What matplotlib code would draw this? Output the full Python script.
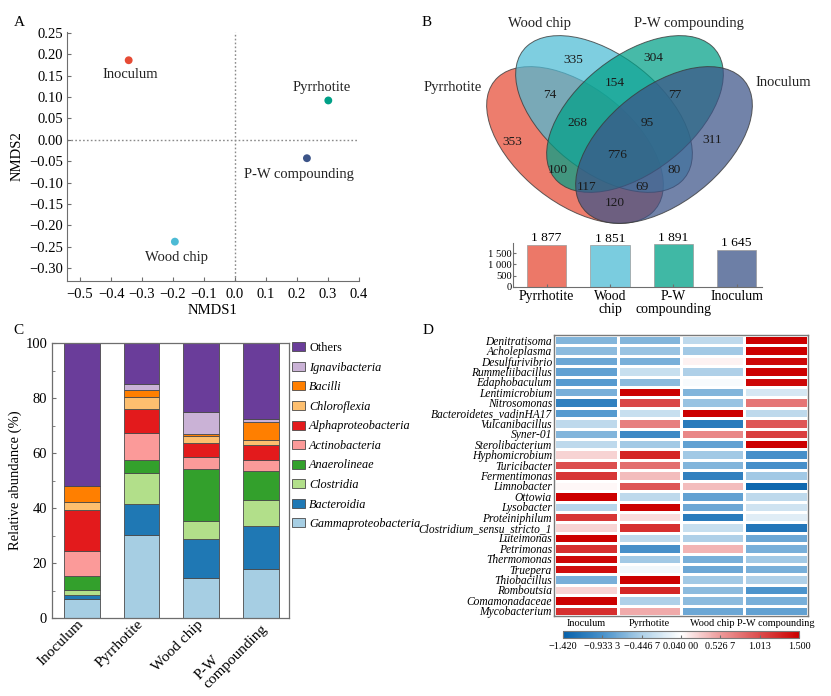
import matplotlib
matplotlib.use('Agg')
import matplotlib.pyplot as plt
import matplotlib.transforms as mtransforms
import numpy as np
from matplotlib.patches import Ellipse, Patch
from matplotlib.colors import LinearSegmentedColormap, to_rgba

plt.rcParams['font.family'] = ['Liberation Serif', 'DejaVu Serif']
plt.rcParams['axes.unicode_minus'] = True

# ---------------- data ----------------
# Panel A: NMDS
nmds_samples = ['Inoculum', 'Pyrrhotite', 'P-W compounding', 'Wood chip']
nmds1 = [-0.343, 0.301, 0.232, -0.194]
nmds2 = [0.186, 0.092, -0.043, -0.238]
nmds_colors = ['#E64B35', '#00A087', '#3C5488', '#4DBBD5']

# Panel B: Venn
venn_sets = ['Pyrrhotite', 'Wood chip', 'P-W compounding', 'Inoculum']
venn_colors = ['#E64B35', '#4DBBD5', '#00A087', '#3C5488']
venn_counts = [353, 335, 304, 311, 74, 154, 77, 268, 95, 776, 100, 80, 117, 69, 120]
set_totals = [1877, 1851, 1891, 1645]
set_tick_labels = ['Pyrrhotite', 'Wood\nchip', 'P-W\ncompounding', 'Inoculum']

# Panel C: stacked composition (%)
groups_c = ['Inoculum', 'Pyrrhotite', 'Wood chip', 'P-W\ncompounding']
taxa = ['Gammaproteobacteria', 'Bacteroidia', 'Clostridia', 'Anaerolineae',
        'Actinobacteria', 'Alphaproteobacteria', 'Chloroflexia', 'Bacilli',
        'Ignavibacteria', 'Others']
gamma = [7.0, 30.3, 14.5, 17.9]
bacteroidia = [1.2, 11.2, 14.2, 15.4]
clostridia = [1.9, 11.2, 6.7, 9.5]
anaerolineae = [5.2, 4.8, 18.7, 10.8]
actinobacteria = [8.9, 9.7, 4.6, 3.9]
alphaproteo = [15.1, 8.8, 4.9, 5.3]
chloroflexia = [2.9, 4.5, 2.5, 1.9]
bacilli = [5.7, 2.5, 0.9, 6.6]
ignavibacteria = [0.2, 2.2, 7.9, 0.9]
others = [51.9, 14.8, 25.1, 27.8]
taxa_colors = ['#a6cee3', '#1f78b4', '#b2df8a', '#33a02c', '#fb9a99',
               '#e31a1c', '#fdbf6f', '#ff7f00', '#cab2d6', '#6a3d9a']

# Panel D: heatmap (z-scores)
genera = ['Denitratisoma', 'Acholeplasma', 'Desulfurivibrio', 'Rummeliibacillus',
          'Edaphobaculum', 'Lentimicrobium', 'Nitrosomonas', 'Bacteroidetes_vadinHA17',
          'Vulcanibacillus', 'Syner-01', 'Sterolibacterium', 'Hyphomicrobium',
          'Turicibacter', 'Fermentimonas', 'Limnobacter', 'Ottowia', 'Lysobacter',
          'Proteiniphilum', 'Clostridium_sensu_stricto_1', 'Luteimonas', 'Petrimonas',
          'Thermomonas', 'Truepera', 'Thiobacillus', 'Romboutsia', 'Comamonadaceae',
          'Mycobacterium']
heat_cols = ['Inoculum', 'Pyrrhotite', 'Wood chip', 'P-W compounding']
heat_inoculum = [-0.65, -0.6, -0.75, -0.8, -0.85, -0.7, -1.1, -0.85, -0.35, -0.65,
                 -0.35, 0.25, 1.0, 1.15, 0.08, 1.5, -0.4, 1.15, 0.25, 1.5, 1.2,
                 1.45, 1.4, -0.7, 0.25, 1.5, 1.2]
heat_pyrrhotite = [-0.65, -0.55, -0.7, -0.3, -0.6, 1.5, 1.05, -0.3, 0.7, -1.0,
                   -0.5, 1.25, 0.8, 0.35, 0.95, -0.35, 1.5, 0.2, 1.2, -0.35, -0.95,
                   -0.5, -0.05, 1.5, 1.25, -0.45, 0.45]
heat_woodchip = [-0.35, -0.5, 0.1, -0.45, 0.0, -0.65, -0.55, 1.5, -1.15, 0.65,
                 -0.8, -0.5, -0.65, -1.1, 0.35, -0.8, -0.75, -1.15, -0.3, -0.45, 0.4,
                 -0.7, -0.75, -0.5, -0.6, -0.6, -0.75]
heat_pw = [1.5, 1.5, 1.45, 1.5, 1.45, -0.2, 0.75, -0.35, 0.95, 1.1,
           1.5, -0.95, -0.95, -0.5, -1.35, -0.35, -0.25, -0.15, -1.2, -0.75, -0.7,
           -0.5, -0.7, -0.45, -0.9, -0.7, -0.8]
cbar_ticks = [-1.42, -0.9333, -0.4467, 0.04, 0.5267, 1.013, 1.5]
cbar_ticklabels = ['\u22121.420', '\u22120.933 3', '\u22120.446 7', '0.040 00',
                   '0.526 7', '1.013', '1.500']

W, H = 831, 696
fig = plt.figure(figsize=(W / 100, H / 100), dpi=100)


def px_axes(l, t, r, b):
    return fig.add_axes([l / W, 1 - b / H, (r - l) / W, (b - t) / H])


GRAY = '#6e6e6e'

# ---------------- Panel A ----------------
axA = px_axes(67, 32, 359, 281)
axA.axvline(0, color='#8a8a8a', ls=(0, (1.2, 1.6)), lw=1.0, zorder=1)
axA.axhline(0, color='#8a8a8a', ls=(0, (1.2, 1.6)), lw=1.0, zorder=1)
axA.scatter(nmds1, nmds2, c=nmds_colors, s=32, zorder=3, edgecolors='none')
offsets = {'Inoculum': (2, -14), 'Pyrrhotite': (-7, 13),
           'P-W compounding': (-8, -16), 'Wood chip': (2, -16)}
for name, x, y in zip(nmds_samples, nmds1, nmds2):
    axA.annotate(name, (x, y), xytext=offsets[name], textcoords='offset pixels',
                 ha='center', va='center', fontsize=10.5, color='#222222')
axA.set_xlim(-0.542, 0.4)
axA.set_ylim(-0.33, 0.252)
xt = np.round(np.arange(-0.5, 0.41, 0.1), 2)
axA.set_xticks(xt)
axA.set_xticklabels([f'{v:.1f}'.replace('-', '\u2212') if abs(v) > 1e-9 else '0.0' for v in xt])
yt = np.round(np.arange(-0.30, 0.251, 0.05), 2)
axA.set_yticks(yt)
axA.set_yticklabels([f'{v:.2f}'.replace('-', '\u2212') if abs(v) > 1e-9 else '0.00' for v in yt])
for s in ['top', 'right']:
    axA.spines[s].set_visible(False)
for s in ['left', 'bottom']:
    axA.spines[s].set_color(GRAY)
    axA.spines[s].set_linewidth(0.8)
axA.tick_params(direction='in', length=3, color=GRAY, labelsize=10.5, pad=3)
axA.tick_params(axis='x', pad=5)
axA.set_xlabel('NMDS1', fontsize=10.5, labelpad=2)
axA.set_ylabel('NMDS2', fontsize=10.5, labelpad=4)
fig.text(19 / W, 1 - 23 / H, 'A', fontsize=11, va='center', ha='center')

# ---------------- Panel B: Venn ----------------
# unit space for the Venn (x: 310 px/unit, y: 275 px/unit)
def vx(px):
    return 0.5 + (px - 619.5) / 310.0


def vy(py):
    return (274.25 - py) / 275.0


axV = px_axes(410, 0, 831, 240)
axV.set_xlim(vx(410), vx(831))
axV.set_ylim(vy(240), vy(0))
axV.set_aspect('auto')
axV.axis('off')
ell_params = [((vx(575), vy(145)), -45), ((vx(604), vy(114)), -45),
              ((vx(635), vy(114)), 45), ((vx(664), vy(145)), 45)]
for (c, ang), col in zip(ell_params, venn_colors):
    e = Ellipse(c, 0.70, 0.40, angle=ang, facecolor=to_rgba(col, 0.72),
                edgecolor=to_rgba('#3a3a3a', 0.8), lw=0.7)
    axV.add_patch(e)
count_pos = [(512, 142), (573, 60), (653, 58), (712, 140), (550, 95), (615, 83),
             (675, 95), (577, 123), (647, 123), (617, 155), (558, 170), (674, 170),
             (587, 187), (642, 187), (615, 203)]
for n, (x, y) in zip(venn_counts, count_pos):
    axV.text(vx(x), vy(y), str(n), ha='center', va='center', fontsize=9.6,
             color='#1a1a1a')
set_label_pos = [(453, 87), (540, 24), (689, 24), (783, 82)]
for name, (x, y) in zip(venn_sets, set_label_pos):
    axV.text(vx(x), vy(y), name, ha='center', va='center', fontsize=10.5,
             color='#222222')
fig.text(427 / W, 1 - 23 / H, 'B', fontsize=11, va='center', ha='center')

# bar of set sizes
axB = px_axes(513, 243, 762, 287)
xb = np.arange(len(set_totals))
axB.bar(xb, set_totals, width=0.62,
        color=[to_rgba(c, 0.75) for c in venn_colors],
        edgecolor='#9a9a9a', lw=0.5)
for x, v in zip(xb, set_totals):
    axB.text(x, v + 20, f'{v // 1000} {v % 1000:03d}', ha='center', va='bottom',
             fontsize=9.7)
axB.set_xlim(-0.53, 3.4)
axB.set_ylim(0, 1950)
axB.set_xticks(xb)
axB.set_xticklabels(set_tick_labels, fontsize=9.9, linespacing=1.05)
axB.set_yticks([0, 500, 1000, 1500])
axB.set_yticklabels(['0', '500', '1 000', '1 500'], fontsize=7.6)
for s in ['top', 'right']:
    axB.spines[s].set_visible(False)
for s in ['left', 'bottom']:
    axB.spines[s].set_color(GRAY)
    axB.spines[s].set_linewidth(0.8)
axB.tick_params(direction='in', length=2, color=GRAY, pad=1)
axB.tick_params(axis='x', pad=2)

# ---------------- Panel C ----------------
axC = px_axes(52, 343, 289, 618)
xc = np.arange(len(groups_c))
series = [gamma, bacteroidia, clostridia, anaerolineae, actinobacteria,
          alphaproteo, chloroflexia, bacilli, ignavibacteria, others]
bottom = np.zeros(len(groups_c))
for name, vals, col in zip(taxa, series, taxa_colors):
    axC.bar(xc, vals, bottom=bottom, width=0.6, color=col,
            edgecolor='#4a4a4a', lw=0.6)
    bottom += np.array(vals)
axC.set_xlim(-0.5, 3.47)
axC.set_ylim(0, 100)
axC.set_yticks([0, 20, 40, 60, 80, 100])
axC.set_yticks([10, 30, 50, 70, 90], minor=True)
axC.set_xticks(xc)
axC.set_xticklabels(groups_c, rotation=45, ha='right', va='center',
                    rotation_mode='anchor', fontsize=11, linespacing=0.95,
                    multialignment='left')
shift = mtransforms.ScaledTranslation(7 / 100, 0, fig.dpi_scale_trans)
for lbl in axC.get_xticklabels():
    lbl.set_transform(lbl.get_transform() + shift)
axC.tick_params(axis='both', direction='in', length=3, color=GRAY, labelsize=10.5)
axC.tick_params(axis='y', which='minor', direction='in', length=2, color=GRAY)
axC.tick_params(axis='x', length=0, pad=3, labelsize=11)
for s in axC.spines.values():
    s.set_color(GRAY)
    s.set_linewidth(0.9)
axC.set_ylabel('Relative abundance (%)', fontsize=10.5, labelpad=2)
handles = [Patch(facecolor=c, edgecolor='#4a4a4a', lw=0.6) for c in taxa_colors][::-1]
labels = taxa[::-1]
leg = axC.legend(handles, labels, loc='upper left', bbox_to_anchor=(292 / W, 1 - 342 / H),
                 bbox_transform=fig.transFigure, frameon=False, fontsize=8.8,
                 handlelength=1.1, handleheight=0.75, handletextpad=0.3,
                 labelspacing=0.62, borderaxespad=0, borderpad=0)
for t in leg.get_texts():
    if t.get_text() != 'Others':
        t.set_fontstyle('italic')
fig.text(18 / W, 1 - 330 / H, 'C', fontsize=11, va='center', ha='center')

# ---------------- Panel D ----------------
axD = px_axes(554, 335, 808, 616)
cmap = LinearSegmentedColormap.from_list(
    'bwr_custom',
    [(0.0, '#0561ab'), (0.178, '#4d94cc'), (0.332, '#aed0e8'), (0.5, '#ffffff'),
     (0.658, '#ee9f9f'), (0.829, '#dc4f4f'), (1.0, '#cc0000')])
mat = np.column_stack([heat_inoculum, heat_pyrrhotite, heat_woodchip, heat_pw])
mesh = axD.pcolormesh(np.arange(5), np.arange(len(genera) + 1), mat, cmap=cmap,
                      vmin=-1.42, vmax=1.5, edgecolors='white', linewidth=1.0)
axD.set_xlim(0, 4)
axD.set_ylim(len(genera), 0)
axD.set_yticks(np.arange(len(genera)) + 0.5)
axD.set_yticklabels(genera, fontsize=8.3, fontstyle='italic')
axD.set_xticks(np.arange(4) + 0.5)
axD.set_xticklabels(heat_cols, fontsize=7.4)
axD.tick_params(length=0, pad=1.5)
axD.tick_params(axis='x', pad=2.5)
for s in axD.spines.values():
    s.set_color('#7a7a7a')
    s.set_linewidth(1.0)
fig.text(428 / W, 1 - 330 / H, 'D', fontsize=11, va='center', ha='center')

cax = px_axes(563, 631, 799, 638)
cb = fig.colorbar(mesh, cax=cax, orientation='horizontal', ticks=cbar_ticks)
cb.set_ticklabels(cbar_ticklabels)
cb.ax.tick_params(labelsize=7.3, direction='in', length=2, color=GRAY, pad=3)
cb.outline.set_edgecolor('#7a7a7a')
cb.outline.set_linewidth(0.8)

fig.savefig('out.png', dpi=100, facecolor='white')
